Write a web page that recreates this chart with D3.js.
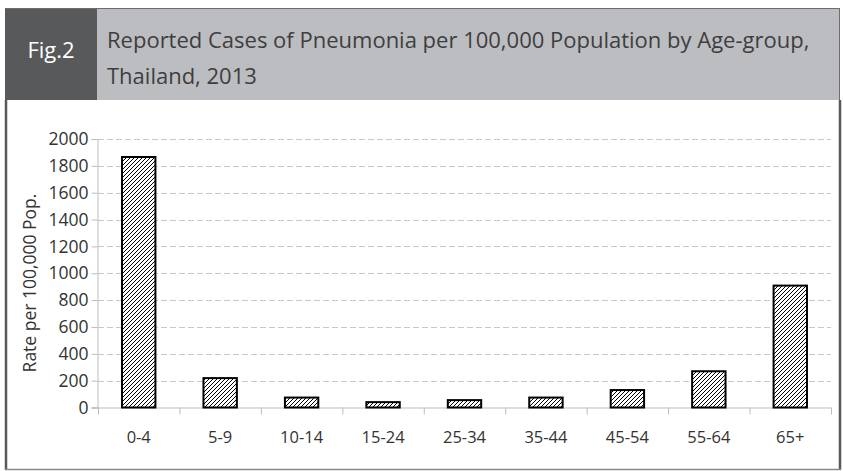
<!DOCTYPE html>
<html>
<head>
<meta charset="utf-8">
<script src="https://cdn.jsdelivr.net/npm/d3@7"></script>
<style>
  body { margin: 0; background: #fff; }
  svg { display: block; }
  text { font-family: "Open Sans", "Noto Sans", sans-serif; }
</style>
</head>
<body>
<svg id="chart" width="843" height="471"></svg>
<script>
const ageGroups = ['0-4', '5-9', '10-14', '15-24', '25-34', '35-44', '45-54', '55-64', '65+'];
const rates = [1866, 219, 74, 40, 55, 74, 130, 270, 908];
const yTicks = [0, 200, 400, 600, 800, 1000, 1200, 1400, 1600, 1800, 2000];
const titleLines = ['Reported Cases of Pneumonia per 100,000 Population by Age-group,', 'Thailand, 2013'];
const figLabel = 'Fig.2';
const yLabel = 'Rate per 100,000 Pop.';

const svg = d3.select('#chart');

// hatch fill for the bars
const defs = svg.append('defs');
const hatch = defs.append('pattern')
  .attr('id', 'hatch')
  .attr('patternUnits', 'userSpaceOnUse')
  .attr('width', 4)
  .attr('height', 4);
hatch.append('rect').attr('width', 4).attr('height', 4).attr('fill', '#fff');
hatch.append('path')
  .attr('d', 'M-1,1 l2,-2 M0,4 l4,-4 M3,5 l2,-2')
  .attr('stroke', '#000')
  .attr('stroke-width', 1);

// header
svg.append('rect').attr('x', 97).attr('y', 8).attr('width', 743).attr('height', 92).attr('fill', '#bcbdc0');
svg.append('rect').attr('x', 5).attr('y', 8).attr('width', 92).attr('height', 92).attr('fill', '#58595b');
svg.append('line').attr('x1', 5).attr('x2', 840).attr('y1', 8.5).attr('y2', 8.5).attr('stroke', '#6d6e70');
svg.append('line').attr('x1', 839.5).attr('x2', 839.5).attr('y1', 8).attr('y2', 100).attr('stroke', '#6d6e70');

svg.append('text')
  .attr('x', 51).attr('y', 58)
  .attr('text-anchor', 'middle')
  .attr('fill', '#fff')
  .style('font-size', '22px')
  .text(figLabel);

svg.append('g').selectAll('text')
  .data(titleLines)
  .enter().append('text')
  .attr('x', 107)
  .attr('y', (d, i) => 48 + i * 36)
  .attr('fill', '#3e3e40')
  .style('font-size', '22px')
  .text(d => d);

// frame
svg.append('line').attr('x1', 6).attr('x2', 6).attr('y1', 100).attr('y2', 470).attr('stroke', '#58595b').attr('stroke-width', 2.5);
svg.append('line').attr('x1', 840).attr('x2', 840).attr('y1', 100).attr('y2', 470).attr('stroke', '#58595b').attr('stroke-width', 2.5);
svg.append('line').attr('x1', 5).attr('x2', 841).attr('y1', 469.5).attr('y2', 469.5).attr('stroke', '#8a8a8a').attr('stroke-width', 1.5);

// plot
const x0 = 98, x1 = 831, yBottom = 407.5, yTop = 139;

const x = d3.scaleBand()
  .domain(ageGroups)
  .range([x0, x1])
  .paddingInner(0.59)
  .paddingOuter(0.295);

const xEdge = d3.scaleLinear().domain([0, ageGroups.length]).range([x0, x1]);

const y = d3.scaleLinear().domain([0, 2000]).range([yBottom, yTop]);

// gridlines
svg.append('g').selectAll('line')
  .data(yTicks.filter(t => t > 0))
  .enter().append('line')
  .attr('x1', x0).attr('x2', x1)
  .attr('y1', d => Math.round(y(d)) + 0.5)
  .attr('y2', d => Math.round(y(d)) + 0.5)
  .attr('stroke', '#c9c9c9')
  .attr('stroke-dasharray', '6,3');

// y axis
const yAxis = svg.append('g')
  .attr('transform', `translate(${x0 - 0.5},0)`)
  .call(d3.axisLeft(y).tickValues(yTicks).tickSize(6).tickPadding(3).tickFormat(d3.format('d')));
yAxis.select('.domain').attr('stroke', '#bdbdbd');
yAxis.selectAll('.tick line').attr('stroke', '#bdbdbd');
yAxis.selectAll('.tick text')
  .attr('fill', '#333')
  .style('font-size', '17.5px')
  .style('font-family', '"Open Sans", sans-serif');

// x axis baseline and ticks at category edges
const xAxis = svg.append('g')
  .attr('transform', `translate(0,${yBottom})`)
  .call(d3.axisBottom(xEdge).tickValues(d3.range(ageGroups.length + 1)).tickSize(7).tickFormat(''));
xAxis.select('.domain').attr('stroke', '#bdbdbd').attr('d', `M${x0 - 6},0.5H${x1}`);
xAxis.selectAll('.tick line').attr('stroke', '#bdbdbd');

svg.append('g').selectAll('text')
  .data(ageGroups)
  .enter().append('text')
  .attr('x', d => x(d) + x.bandwidth() / 2)
  .attr('y', 443)
  .attr('text-anchor', 'middle')
  .attr('fill', '#333')
  .style('font-size', '16.5px')
  .text(d => d);

// bars
svg.append('g').selectAll('rect')
  .data(rates)
  .enter().append('rect')
  .attr('x', (d, i) => x(ageGroups[i]))
  .attr('y', d => y(d))
  .attr('width', x.bandwidth())
  .attr('height', d => yBottom - y(d))
  .attr('fill', 'url(#hatch)')
  .attr('stroke', '#000')
  .attr('stroke-width', 2);

// y label
svg.append('text')
  .attr('transform', 'translate(36,283) rotate(-90)')
  .attr('text-anchor', 'middle')
  .attr('fill', '#333')
  .style('font-size', '17.5px')
  .text(yLabel);
</script>
</body>
</html>
